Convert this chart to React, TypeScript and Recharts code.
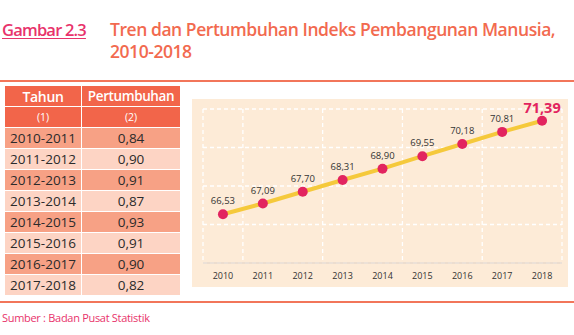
import { LineChart, Line, XAxis, YAxis, CartesianGrid, LabelList } from "recharts";

const years = [2010, 2011, 2012, 2013, 2014, 2015, 2016, 2017, 2018];
const ipm = [66.53, 67.09, 67.7, 68.31, 68.9, 69.55, 70.18, 70.81, 71.39];
const periods = ["2010-2011", "2011-2012", "2012-2013", "2013-2014", "2014-2015", "2015-2016", "2016-2017", "2017-2018"];
const growth = [0.84, 0.9, 0.91, 0.87, 0.93, 0.91, 0.9, 0.82];
const yTicks = [64, 65, 66, 67, 68, 69, 70, 71, 72];
const gridTicks = [2009.5, 2010.5, 2011.5, 2012.5, 2013.5, 2014.5, 2015.5, 2016.5, 2017.5, 2018.5];

const FONT = "'Open Sans', sans-serif";
const CORAL = "#f2654a";
const CRIMSON = "#e2245f";

const fmt = (v: number) => v.toFixed(2).replace(".", ",");

const chartData = years.map((y, i) => ({ year: y, value: ipm[i] }));

function PointLabel(props: any) {
  const { x, y, value, index } = props;
  const last = index === ipm.length - 1;
  return (
    <text
      x={x}
      y={last ? y - 7.5 : y - 10}
      textAnchor="middle"
      fontFamily={FONT}
      fontSize={last ? 14.5 : 9.5}
      fontWeight={last ? 700 : 400}
      fill={last ? CRIMSON : "#333"}
    >
      {fmt(value)}
    </text>
  );
}

export default function App() {
  const cell = (bg: string, color: string, size: number, weight = 400, ls = 0): React.CSSProperties => ({
    background: bg,
    color,
    fontSize: size,
    fontWeight: weight,
    letterSpacing: ls,
    height: 20,
    display: "flex",
    alignItems: "center",
    justifyContent: "center",
  });

  return (
    <div style={{ position: "absolute", left: 0, top: 0, width: 574, height: 335, background: "#fff", fontFamily: FONT, overflow: "hidden" }}>
      <div style={{ position: "absolute", left: 2, top: 18, fontSize: 16.5, fontWeight: 600, color: "#e8336b", textDecoration: "underline", textUnderlineOffset: 2, letterSpacing: -0.8 }}>
        Gambar 2.3
      </div>
      <div style={{ position: "absolute", left: 110, top: 18, fontSize: 17.5, lineHeight: "22px", fontWeight: 600, color: "#f26a4f", letterSpacing: -0.45 }}>
        Tren dan Pertumbuhan Indeks Pembangunan Manusia,
        <br />
        2010-2018
      </div>

      <div style={{ position: "absolute", left: 0, top: 80, width: 574, height: 2, background: "#f2765a" }} />
      <div style={{ position: "absolute", left: 0, top: 301, width: 574, height: 2, background: "#f2765a" }} />

      <div style={{ position: "absolute", left: 5, top: 86, width: 176, display: "grid", gridTemplateColumns: "76px 98px", columnGap: 1, rowGap: 1 }}>
        <div style={cell(CORAL, "#fff", 14, 600, -0.3)}>Tahun</div>
        <div style={cell(CORAL, "#fff", 13.5, 600, -0.4)}>Pertumbuhan</div>
        <div style={cell(CORAL, "#fff", 10.5)}>(1)</div>
        <div style={cell(CORAL, "#fff", 10.5)}>(2)</div>
        {periods.map((p, i) => {
          const bg = i % 2 === 0 ? "#f7a185" : "#fdd4c4";
          return [
            <div key={p} style={cell(bg, "#2b2b2b", 13.5)}>{p}</div>,
            <div key={p + "v"} style={cell(bg, "#2b2b2b", 13.5)}>{fmt(growth[i])}</div>,
          ];
        })}
      </div>

      <div style={{ position: "absolute", left: 192, top: 99, width: 376, height: 188, background: "#fdebd7" }}>
        <LineChart width={376} height={188} data={chartData} margin={{ top: 10, right: 6, left: 11, bottom: 0 }}>
          <CartesianGrid xAxisId="grid" stroke="#ffffff" strokeWidth={1.3} strokeDasharray="4 3" />
          <XAxis
            xAxisId="grid"
            orientation="top"
            type="number"
            dataKey="year"
            domain={[2009.5, 2018.5]}
            ticks={gridTicks}
            height={0}
            hide
          />
          <XAxis
            xAxisId="main"
            type="number"
            dataKey="year"
            domain={[2009.5, 2018.5]}
            ticks={years}
            height={24}
            axisLine={{ stroke: "#e6d9cc", strokeWidth: 1.5 }}
            tickLine={false}
            tickMargin={4}
            tick={{ fontSize: 9, fill: "#333", fontFamily: FONT }}
          />
          <YAxis type="number" domain={[64, 72]} ticks={yTicks} hide />
          <Line
            xAxisId="main"
            dataKey="value"
            stroke="#f5c93b"
            strokeWidth={4}
            dot={{ r: 5, fill: CRIMSON, stroke: "none" }}
            activeDot={false}
            isAnimationActive={false}
          >
            <LabelList dataKey="value" content={PointLabel} />
          </Line>
        </LineChart>
      </div>

      <div style={{ position: "absolute", left: 2, top: 310, fontSize: 11, color: "#e8336b", letterSpacing: -0.3 }}>
        Sumber : Badan Pusat Statistik
      </div>
    </div>
  );
}
